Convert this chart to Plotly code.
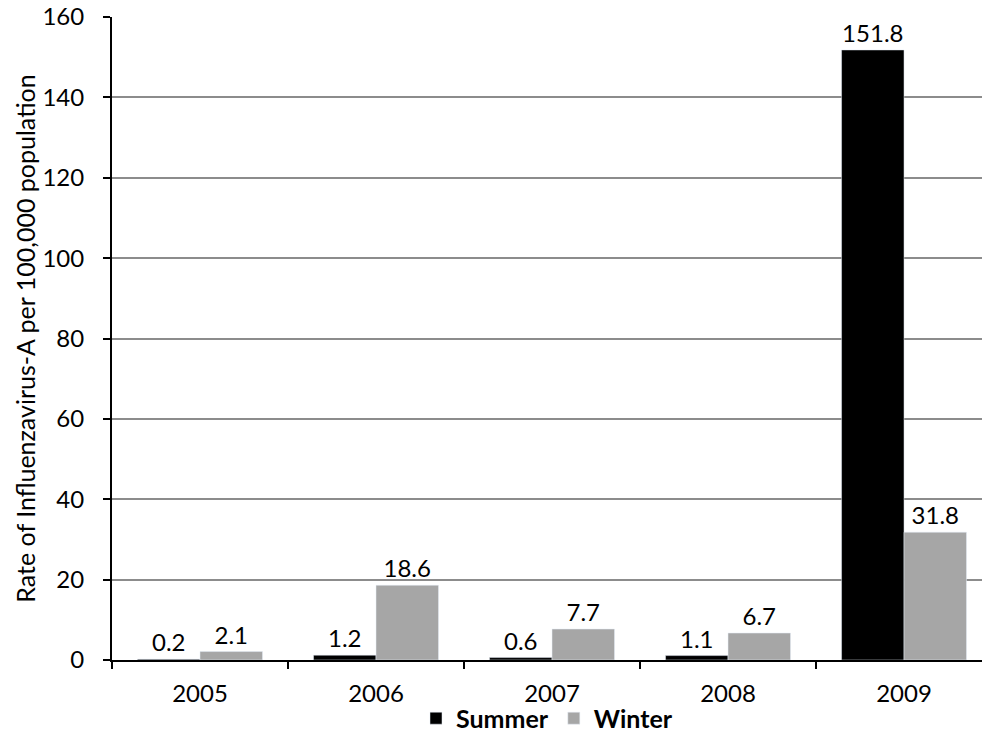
import plotly.graph_objects as go

years = ["2005", "2006", "2007", "2008", "2009"]
summer = [0.2, 1.2, 0.6, 1.1, 151.8]
winter = [2.1, 18.6, 7.7, 6.7, 31.8]
summer_labels = ["0.2", "1.2", "0.6", "1.1", "151.8"]
winter_labels = ["2.1", "18.6", "7.7", "6.7", "31.8"]

font_family = "Lato, 'Open Sans', sans-serif"
FS = 24

fig = go.Figure()
fig.add_trace(go.Bar(
    x=years, y=summer, name="Summer", marker_color="#000000",
    text=summer_labels, textposition="outside", cliponaxis=False,
    textfont=dict(size=FS, color="#000000", family=font_family),
))
fig.add_trace(go.Bar(
    x=years, y=winter, name="Winter", marker_color="#a6a6a6",
    text=winter_labels, textposition="outside", cliponaxis=False,
    textfont=dict(size=FS, color="#000000", family=font_family),
))

fig.update_layout(
    width=982, height=751,
    margin=dict(l=112, r=0, t=17, b=91, autoexpand=False),
    paper_bgcolor="white", plot_bgcolor="white",
    barmode="group", bargap=0.29, bargroupgap=0,
    font=dict(family=font_family, size=FS, color="#000000"),
    showlegend=True,
    legend=dict(
        orientation="h", x=0.5, xanchor="center",
        yref="container", y=0.074, yanchor="top",
        bgcolor="rgba(0,0,0,0)",
        font=dict(size=25, family=font_family, weight="bold"),
        itemwidth=30, traceorder="normal",
    ),
    uniformtext=dict(mode=False),
)

fig.update_xaxes(
    type="category", range=[-0.5, 4.443], automargin=False,
    showline=True, linecolor="#000000", linewidth=2,
    ticks="outside", tickson="boundaries", ticklen=7, tickwidth=2, tickcolor="#000000",
    showgrid=False, tickfont=dict(size=FS), ticklabelstandoff=11,
)
fig.update_yaxes(
    range=[0, 160], tickvals=[0, 20, 40, 60, 80, 100, 120, 140, 160], automargin=False,
    showline=True, linecolor="#000000", linewidth=2,
    ticks="outside", ticklen=7, tickwidth=2, tickcolor="#000000",
    showgrid=True, gridcolor="#8c8c8c", gridwidth=2,
    zeroline=False, tickfont=dict(size=FS), ticklabelstandoff=14,
    title=dict(text="Rate of Influenzavirus-A per 100,000 population", font=dict(size=25), standoff=0),
)

fig.write_html("out.html")
